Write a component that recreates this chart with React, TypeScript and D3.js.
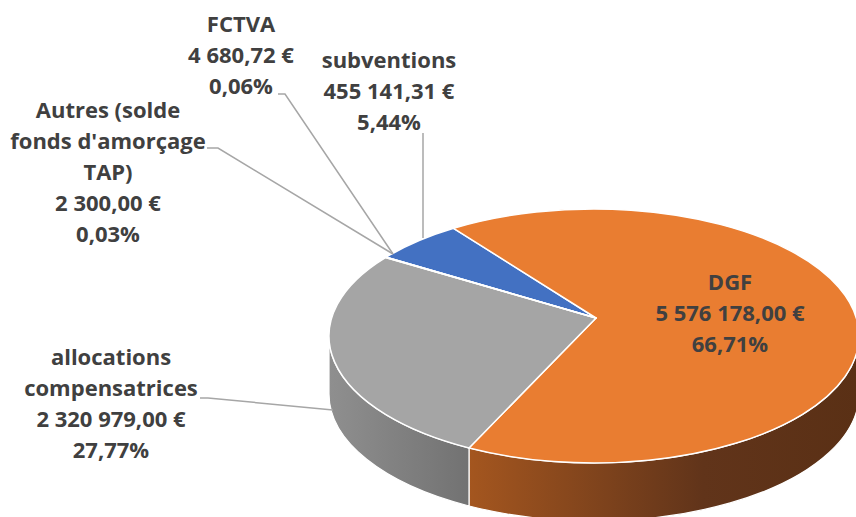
import React from 'react';
import * as d3 from 'd3';

// ---- data ----
const categories = ['subventions', 'DGF', 'allocations compensatrices', 'FCTVA', "Autres (solde fonds d'amorçage TAP)"];
const values = [455141.31, 5576178.0, 2320979.0, 4680.72, 2300.0];
const nameLines = [['subventions'], ['DGF'], ['allocations', 'compensatrices'], ['FCTVA'], ['Autres (solde', "fonds d'amorçage", 'TAP)']];

// ---- styles / layout ----
const colors = ['#4371c2', '#e97d31', '#a5a5a5', '#ffc000', '#5b9bd5'];
const labelPos = [
  { x: 389, y: 68 },
  { x: 730, y: 290 },
  { x: 111, y: 365 },
  { x: 241, y: 32 },
  { x: 108, y: 118 },
];
const leaders: ([number, number][] | null)[] = [
  [[423, 133], [423, 238]],
  null,
  [[200, 398], [208, 398], [333, 410]],
  [[278, 94], [285, 94], [393, 254]],
  [[207, 148], [218, 148], [393, 254]],
];

const W = 856, H = 517;
const cx = 594, cy = 336, rx = 265, ry = 127, depth = 58;
const apex: [number, number] = [596, 318];
const LINE = 31;

const locale = d3.formatLocale({ decimal: ',', thousands: ' ', grouping: [3], currency: ['', ' €'] });
const fmtVal = locale.format(',.2f');
const fmtPct = locale.format('.2%');

function pt(a: number, dy = 0): [number, number] {
  return [cx + rx * Math.sin(a), cy - ry * Math.cos(a) + dy];
}

export default function App() {
  const total = d3.sum(values);
  const start = (308.4 * Math.PI) / 180;
  const pie = d3.pie<number>().sort(null).value((d) => d).startAngle(start).endAngle(start + 2 * Math.PI);
  const arcs = pie(values);

  // side walls (visible front half)
  const sides: { i: number; d: string; x0: number; x1: number }[] = [];
  arcs.forEach((a, i) => {
    for (let k = -1; k <= 2; k++) {
      const lo = Math.max(a.startAngle, Math.PI / 2 + 2 * Math.PI * k);
      const hi = Math.min(a.endAngle, (3 * Math.PI) / 2 + 2 * Math.PI * k);
      if (hi > lo + 1e-6) {
        const p0 = pt(lo), p1 = pt(hi), q1 = pt(hi, depth), q0 = pt(lo, depth);
        const d = `M${p0[0]},${p0[1]} A${rx},${ry} 0 0 1 ${p1[0]},${p1[1]} L${q1[0]},${q1[1]} A${rx},${ry} 0 0 0 ${q0[0]},${q0[1]} Z`;
        sides.push({ i, d, x0: Math.min(p0[0], p1[0]), x1: Math.max(p0[0], p1[0]) });
      }
    }
  });

  const tops = arcs.map((a, i) => {
    const p0 = pt(a.startAngle), p1 = pt(a.endAngle);
    const large = a.endAngle - a.startAngle > Math.PI ? 1 : 0;
    return { i, d: `M${apex[0]},${apex[1]} L${p0[0]},${p0[1]} A${rx},${ry} 0 ${large} 1 ${p1[0]},${p1[1]} Z` };
  });

  const sideStops: Record<number, [number, string][]> = {
    1: [[0, '#a4561f'], [0.6, '#61341a'], [1, '#5a3015']],
    2: [[0, '#8f8f8f'], [1, '#727272']],
  };

  return (
    <svg width={W} height={H} style={{ position: 'absolute', left: 0, top: 0, background: '#fff' }}
      fontFamily="'Open Sans', sans-serif">
      <defs>
        {sides.map((s, j) => (
          <linearGradient key={j} id={`side${j}`} gradientUnits="userSpaceOnUse" x1={s.x0} x2={s.x1} y1={0} y2={0}>
            {(sideStops[s.i] || [[0, colors[s.i]], [1, colors[s.i]]]).map(([o, c], m) => (
              <stop key={m} offset={o} stopColor={c} />
            ))}
          </linearGradient>
        ))}
      </defs>
      {sides.map((s, j) => (
        <path key={j} d={s.d} fill={`url(#side${j})`} stroke="#fff" strokeWidth={1.2} strokeLinejoin="round" />
      ))}
      {tops.map((t) => (
        <path key={t.i} d={t.d} fill={colors[t.i]} stroke="#fff" strokeWidth={1.5} strokeLinejoin="round" />
      ))}
      {leaders.map((l, i) =>
        l ? (
          <polyline key={i} points={l.map((p) => p.join(',')).join(' ')} fill="none" stroke="#a6a6a6" strokeWidth={1.5} />
        ) : null
      )}
      {categories.map((c, i) => {
        const lines = [...nameLines[i], `${fmtVal(values[i])} €`, fmtPct(values[i] / total)];
        return (
          <text key={c} x={labelPos[i].x} y={labelPos[i].y} textAnchor="middle" fontSize={22} fontWeight={700} fill="#404040">
            {lines.map((ln, k) => (
              <tspan key={k} x={labelPos[i].x} y={labelPos[i].y + k * LINE}>{ln}</tspan>
            ))}
          </text>
        );
      })}
    </svg>
  );
}
